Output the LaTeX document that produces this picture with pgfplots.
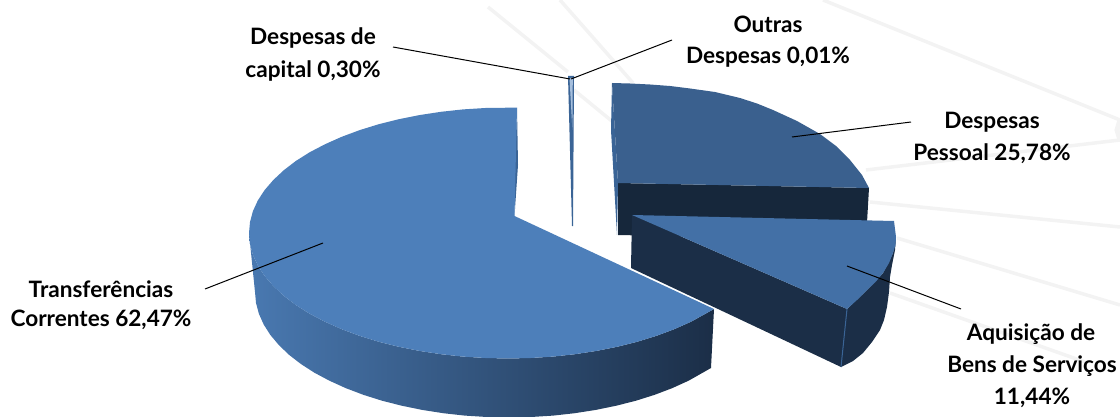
\documentclass[border=0pt]{standalone}
\usepackage{fontspec}
\setmainfont{Lato}
\usepackage{pgfplots}
\pgfplotsset{compat=1.18}
\definecolor{topMain}{HTML}{4D7FBA}
\definecolor{topPessoal}{HTML}{3A608E}
\definecolor{topBens}{HTML}{4370A6}
\definecolor{sidePessoal}{HTML}{16273B}
\definecolor{sideBens}{HTML}{1B2E47}
\definecolor{seam}{HTML}{3A6496}
\definecolor{ray}{HTML}{F3F3F3}
\tikzset{lbl/.style={font=\fontsize{22.6}{26}\selectfont\bfseries, text=black, inner sep=0pt}}
\begin{document}
\begin{tikzpicture}
\begin{axis}[
  width=1120pt, height=417pt, scale only axis,
  xmin=0, xmax=1120, ymin=0, ymax=417,
  y dir=reverse, hide axis, clip=true,
]
% faint rays behind the pie
\addplot[ray, line width=3.5pt] coordinates {(488,7) (568,72)};
\addplot[ray, line width=3.5pt] coordinates {(574,90) (613,122)};
\addplot[ray, line width=3.5pt] coordinates {(560,0) (633,83)};
\addplot[ray, line width=3.5pt] coordinates {(823,0) (1120,120)};
\addplot[ray, line width=3.5pt] coordinates {(866,170) (1120,140)};
\addplot[ray, line width=3.5pt] coordinates {(870,202) (1120,227)};
\addplot[ray, line width=3.5pt] coordinates {(897,238) (1120,305)};
\addplot[ray, line width=3.5pt] coordinates {(890,293) (1085,362)};
\addplot[ray, line width=5pt] coordinates {(1120,120) (1117,130) (1120,140)};

% Despesas Pessoal: inner face, front face, top
\addplot[fill=seam, draw=none] coordinates {(612,83) (618,183) (617,235) (611,130)} -- cycle;
\addplot[fill=sidePessoal, draw=none] coordinates {(618,183) (869,188) (866,240) (618,235)} -- cycle;
\addplot[fill=topPessoal, draw=none] coordinates {
  (612,83) (630,83.5) (650,84.5) (670,86) (690,88.5) (715,92) (740,98) (757,103.5)
  (773,110) (797,121) (820,134) (836,146) (850,160) (862,175) (869,188) (618,183)} -- cycle;

% Aquisicao de Bens de Servicos: front face, outer wall, top
\addplot[fill=sideBens, draw=none] coordinates {(632,215) (847,309) (841,367) (631,268)} -- cycle;
\addplot[fill=sideBens, draw=none] coordinates {
  (847,309) (867,290) (883,273) (893,253) (896,237) (895,250) (892,265) (890,277) (889,292)
  (887,307) (884,320) (880,330) (872,342) (863,353) (853,361) (841,367)} -- cycle;
\addplot[seam, line width=1pt] coordinates {(847,309) (841,367)};
\addplot[fill=topBens, draw=none] coordinates {
  (632,215) (894,221) (896,237) (895.5,245) (893,253) (889,263) (883,273) (875.5,282)
  (867,290) (857,300) (847,309)} -- cycle;

% Transferencias Correntes: wall with horizontal shading, inner sliver, top
\addplot[left color=topMain!95!black, middle color=black!10!sideBens!70!topMain, right color=sideBens, draw=none] coordinates {
  (249,233) (250,243.9) (252.9,254.8) (257.8,265.5) (264.6,275.9) (273.3,286) (283.7,295.8)
  (295.8,305) (309.6,313.7) (324.9,321.7) (341.5,329.1) (359.4,335.8) (378.5,341.7)
  (398.5,346.7) (419.4,350.9) (441,354.2) (463,356.6) (485.4,358) (508,358.5) (530.6,358)
  (553,356.6) (575,354.2) (596.6,350.9) (617.5,346.7) (637.5,341.7) (656.6,335.8)
  (674.5,329.1) (691.1,321.7) (714,309)
  (711,368) (688.6,380.7) (672.3,388.1) (654.7,394.8) (636,400.7) (616.3,405.7) (595.9,409.9)
  (574.7,413.2) (553.1,415.6) (531.1,417) (509,417.5) (486.9,417) (464.9,415.6) (443.3,413.2)
  (422.1,409.9) (401.7,405.7) (382,400.7) (363.3,394.8) (345.7,388.1) (329.4,380.7)
  (314.4,372.7) (300.9,364) (289,354.8) (278.8,345) (270.3,334.9) (263.7,324.5)
  (258.9,313.8) (256,302.9) (255,292)} -- cycle;
\addplot[fill=seam, draw=none] coordinates {(517,108) (518,165) (514.5,216) (515,165)} -- cycle;
\addplot[fill=topMain, draw=none] coordinates {
  (517,107.6) (485.4,108) (463,109.4) (441,111.8) (419.4,115.1) (398.5,119.3) (378.5,124.3)
  (359.4,130.2) (341.5,136.9) (324.9,144.3) (309.6,152.3) (295.8,161) (283.7,170.3)
  (273.3,180) (264.6,190.1) (257.8,200.5) (252.9,211.2) (250,222.1) (249,233)
  (250,243.9) (252.9,254.8) (257.8,265.5) (264.6,275.9) (273.3,286) (283.7,295.8)
  (295.8,305) (309.6,313.7) (324.9,321.7) (341.5,329.1) (359.4,335.8) (378.5,341.7)
  (398.5,346.7) (419.4,350.9) (441,354.2) (463,356.6) (485.4,358) (508,358.5) (530.6,358)
  (553,356.6) (575,354.2) (596.6,350.9) (617.5,346.7) (637.5,341.7) (656.6,335.8)
  (674.5,329.1) (691.1,321.7) (714,309) (514.5,216)} -- cycle;

% the two very thin slices
\addplot[fill=seam, draw=none] coordinates {(568,76) (574,76) (573,226) (572,226)} -- cycle;
\addplot[fill=topMain!50!white, draw=none] coordinates {(569.5,78) (572.8,78) (572.4,130)} -- cycle;

% leader lines
\addplot[black, line width=1pt] coordinates {(393,47) (570,79)};
\addplot[black, line width=1pt] coordinates {(672,40) (571,79)};
\addplot[black, line width=1pt] coordinates {(792,137) (911,122)};
\addplot[black, line width=1pt] coordinates {(847,266) (961,309)};
\addplot[black, line width=1pt] coordinates {(323,243) (205,289)};

% labels
\node[lbl] at (axis cs:313,38) {Despesas de};
\node[lbl] at (axis cs:313,71) {capital 0,30\%};
\node[lbl] at (axis cs:768,24) {Outras};
\node[lbl] at (axis cs:768,57) {Despesas 0,01\%};
\node[lbl] at (axis cs:992,122) {Despesas};
\node[lbl] at (axis cs:992,154) {Pessoal 25,78\%};
\node[lbl] at (axis cs:1031,334) {Aquisição de};
\node[lbl] at (axis cs:1032,366) {Bens de Serviços};
\node[lbl] at (axis cs:1032,398) {11,44\%};
\node[lbl] at (axis cs:101,289) {Transferências};
\node[lbl] at (axis cs:101,320) {Correntes 62,47\%};
\end{axis}
\pgfresetboundingbox
\path[use as bounding box] (0,0) rectangle (1120pt,417pt);
\end{tikzpicture}
\end{document}
